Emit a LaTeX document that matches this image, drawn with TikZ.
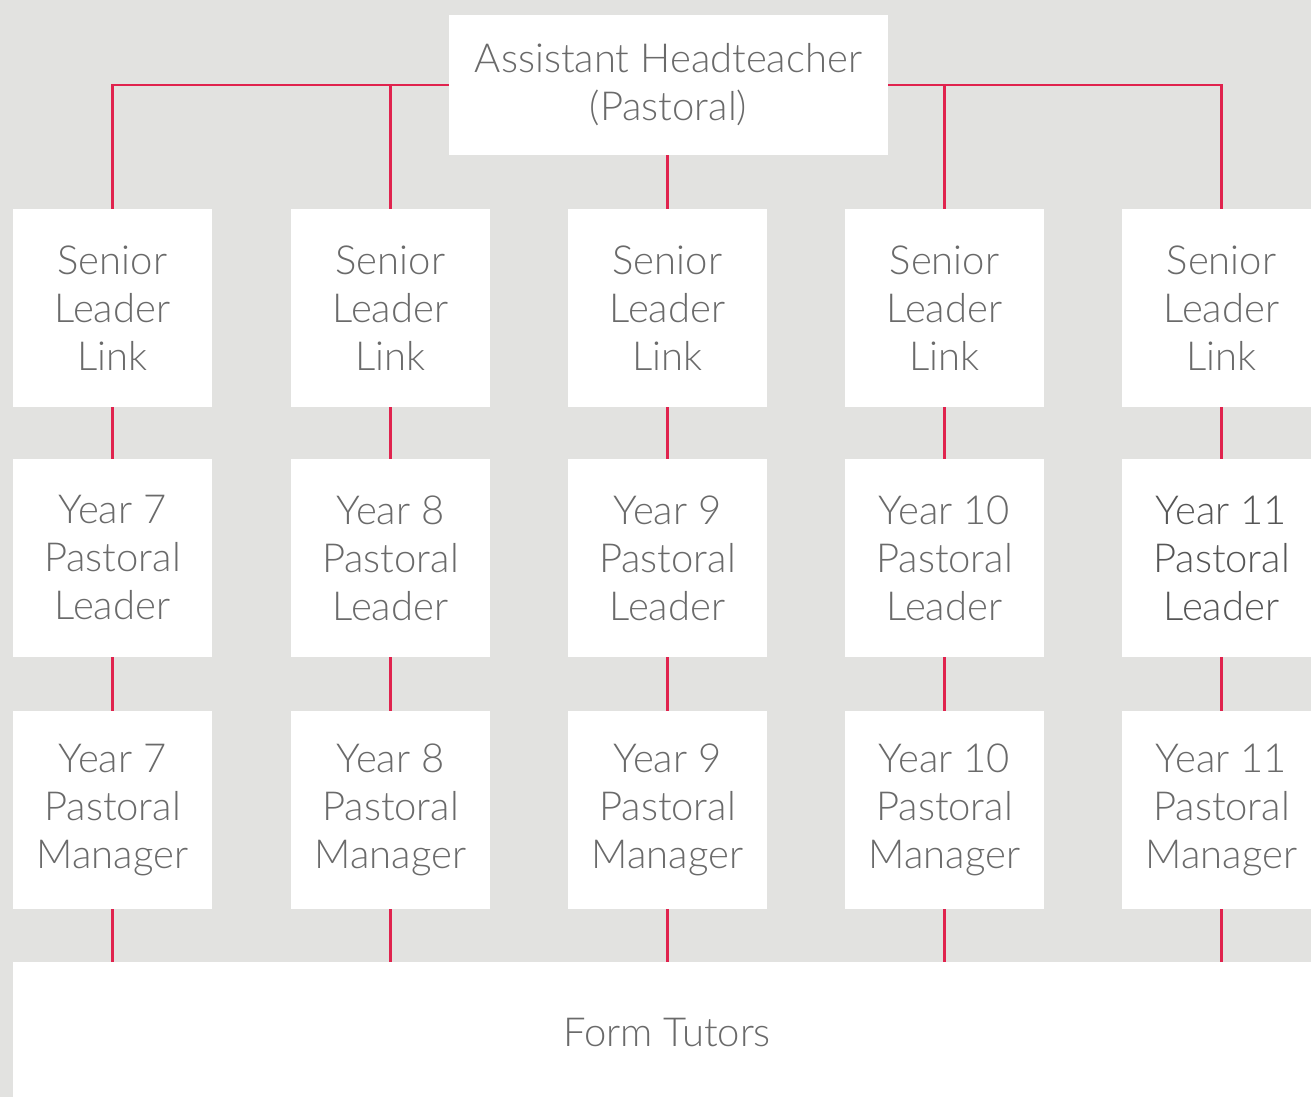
\documentclass[tikz,border=0pt]{standalone}
\usepackage{fontspec}
\setmainfont{Lato Light}
\definecolor{bgc}{HTML}{E2E2E0}
\definecolor{linec}{HTML}{E0234E}
\definecolor{txtc}{HTML}{6A6A6A}
\definecolor{txtd}{HTML}{555555}
\begin{document}
\begin{tikzpicture}[x=1pt,y=-1pt,
  box/.style={fill=white,draw=none,inner sep=0pt,minimum width=199pt,minimum height=198pt,
    align=center,text=txtc,font=\fontsize{40}{48}\selectfont},
  conn/.style={draw=linec,line width=2.5pt}]
\fill[bgc] (0,0) rectangle (1311,1097);
\useasboundingbox (0,0) rectangle (1311,1097);
\node[box,minimum width=439pt,minimum height=140pt] (top) at (668.5,85) {Assistant Headteacher\\(Pastoral)};
\foreach \i/\x in {1/112.5,2/390.5,3/667.5,4/944.5,5/1221.5}{
  \node[box] (s\i) at (\x,308) {Senior\\Leader\\Link};
}
\node[box] (y1) at (112.5,558) {Year 7\\Pastoral\\Leader};
\node[box] (y2) at (390.5,558) {Year 8\\Pastoral\\Leader};
\node[box] (y3) at (667.5,558) {Year 9\\Pastoral\\Leader};
\node[box] (y4) at (944.5,558) {Year 10\\Pastoral\\Leader};
\node[box,text=txtd] (y5) at (1221.5,558) {Year 11\\Pastoral\\Leader};
\node[box] (m1) at (112.5,810) {Year 7\\Pastoral\\Manager};
\node[box] (m2) at (390.5,810) {Year 8\\Pastoral\\Manager};
\node[box] (m3) at (667.5,810) {Year 9\\Pastoral\\Manager};
\node[box] (m4) at (944.5,810) {Year 10\\Pastoral\\Manager};
\node[box] (m5) at (1221.5,810) {Year 11\\Pastoral\\Manager};
\node[box,minimum width=1308pt,minimum height=140pt] (ft) at (667,1032) {Form Tutors};
\draw[conn] (top.west) -| (s1.north);
\draw[conn] (top.west) -| (s2.north);
\draw[conn] (top.east) -| (s4.north);
\draw[conn] (top.east) -| (s5.north);
\draw[conn] (s3.north |- top.south) -- (s3.north);
\foreach \i in {1,...,5}{
  \draw[conn] (s\i.south) -- (y\i.north);
  \draw[conn] (y\i.south) -- (m\i.north);
  \draw[conn] (m\i.south) -- (m\i.south |- ft.north);
}
\end{tikzpicture}
\end{document}
